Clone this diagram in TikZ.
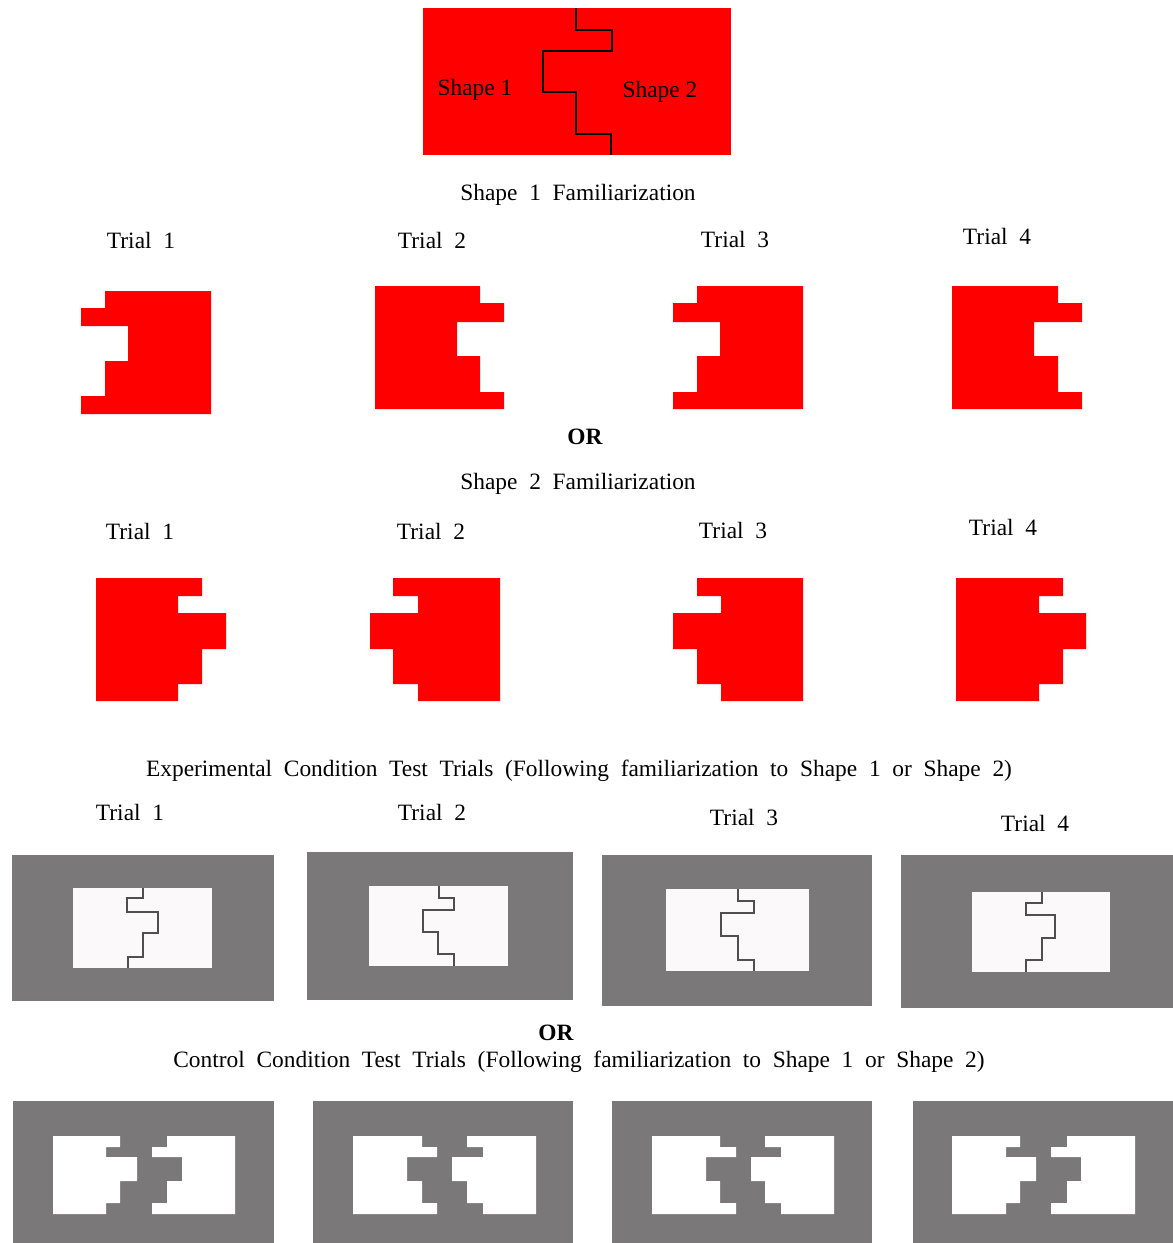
\documentclass[tikz,border=0pt]{standalone}
\usepackage{fontspec}
\setmainfont{Liberation Serif}
\definecolor{panelgray}{RGB}{122,120,121}
\definecolor{innerwhite}{RGB}{251,249,250}
\definecolor{lineGray}{RGB}{80,78,79}
\definecolor{shapered}{RGB}{255,0,0}
\newcommand\setrows[6]{\def\ya{#1}\def\yb{#2}\def\yc{#3}\def\yd{#4}\def\ye{#5}\def\yf{#6}}
\newcommand\widesp{\spaceskip=0.5em\relax}
% shape with straight left edge at #2 and right-edge profile #3..#7
\newcommand\rshape[7][]{\fill[#1] (#2,\ya) -- (#3,\ya) -- (#3,\yb) -- (#4,\yb) -- (#4,\yc) -- (#5,\yc) -- (#5,\yd) -- (#6,\yd) -- (#6,\ye) -- (#7,\ye) -- (#7,\yf) -- (#2,\yf) -- cycle;}
% shape with straight right edge at #2 and left-edge profile #3..#7
\newcommand\lshape[7][]{\fill[#1] (#2,\ya) -- (#3,\ya) -- (#3,\yb) -- (#4,\yb) -- (#4,\yc) -- (#5,\yc) -- (#5,\yd) -- (#6,\yd) -- (#6,\ye) -- (#7,\ye) -- (#7,\yf) -- (#2,\yf) -- cycle;}
% boundary line with profile #2..#6
\newcommand\bline[6][]{\draw[#1] (#2,\ya) -- (#2,\yb) -- (#3,\yb) -- (#3,\yc) -- (#4,\yc) -- (#4,\yd) -- (#5,\yd) -- (#5,\ye) -- (#6,\ye) -- (#6,\yf);}
\tikzset{
  txt/.style={font=\fontsize{23.4}{27}\selectfont, inner sep=0pt, anchor=base},
  bigtxt/.style={font=\fontsize{23.4}{27}\selectfont, inner sep=0pt, anchor=base, execute at begin node=\widesp},
  ortxt/.style={font=\fontsize{23.4}{27}\selectfont\bfseries, inner sep=0pt, anchor=base},
  redfill/.style={fill=shapered},
  whitefill/.style={fill=white},
  panel/.style={fill=panelgray},
  inner/.style={fill=innerwhite},
  cutline/.style={draw=lineGray, line width=1.3pt, line join=miter},
  topline/.style={draw=black, line width=1.6pt}
}
\begin{document}
\begin{tikzpicture}[x=1pt,y=-1pt]
\useasboundingbox (0,0) rectangle (1173,1243);
\fill[white] (0,0) rectangle (1173,1243);

% ---- top combined shape ----
\fill[shapered] (423,8) rectangle (731,155);
\setrows{8}{30}{51}{92}{134}{155}
\bline[topline]{576}{612}{543}{576}{611}
\node[txt] (s1) at (475,95) {Shape 1};
\node[txt] (s2) at (660,97) {Shape 2};

\node[bigtxt] (fam1) at (578,200) {Shape 1 Familiarization};
\node[bigtxt] (r1t1) at (141,248) {Trial 1};
\node[bigtxt] (r1t2) at (432,248) {Trial 2};
\node[bigtxt] (r1t3) at (735,247) {Trial 3};
\node[bigtxt] (r1t4) at (997,244) {Trial 4};

% ---- row 1 red shapes ----
\setrows{291}{308}{326}{361}{396}{414}
\lshape[redfill]{211}{105}{81}{128}{105}{81}
\setrows{286}{303}{322}{356}{392}{409}
\rshape[redfill]{375}{480}{504}{457}{480}{504}
\lshape[redfill]{803}{697}{673}{720}{697}{673}
\rshape[redfill]{952}{1058}{1082}{1034}{1058}{1082}

\node[ortxt] (or1) at (585,444) {OR};
\node[bigtxt] (fam2) at (578,489) {Shape 2 Familiarization};
\node[bigtxt] (r2t1) at (140,539) {Trial 1};
\node[bigtxt] (r2t2) at (431,539) {Trial 2};
\node[bigtxt] (r2t3) at (733,538) {Trial 3};
\node[bigtxt] (r2t4) at (1003,535) {Trial 4};

% ---- row 2 red shapes ----
\setrows{578}{596}{613}{649}{684}{701}
\rshape[redfill]{96}{202}{178}{226}{202}{178}
\lshape[redfill]{500}{393}{418}{370}{393}{418}
\lshape[redfill]{803}{697}{721}{673}{697}{721}
\rshape[redfill]{956}{1063}{1039}{1086}{1063}{1039}

\node[bigtxt] (exph) at (579,776) {Experimental Condition Test Trials (Following familiarization to Shape 1 or Shape 2)};
\node[bigtxt] (e1) at (130,820) {Trial 1};
\node[bigtxt] (e2) at (432,820) {Trial 2};
\node[bigtxt] (e3) at (744,825) {Trial 3};
\node[bigtxt] (e4) at (1035,831) {Trial 4};

% ---- experimental panels ----
\fill[panel] (12,855) rectangle (274,1001);
\fill[panel] (307,852) rectangle (573,1000);
\fill[panel] (602,855) rectangle (872,1006);
\fill[panel] (901,855) rectangle (1173,1008);
\fill[inner] (73,888) rectangle (212,968);
\fill[inner] (369,886) rectangle (508,966);
\fill[inner] (666,889) rectangle (809,971);
\fill[inner] (972,892) rectangle (1110,972);
\setrows{888}{898}{912}{933}{957}{968}
\bline[cutline]{143}{127}{158}{143}{128}
\setrows{886}{898}{910}{932}{954}{966}
\bline[cutline]{439}{454}{423}{438}{454}
\setrows{889}{901}{913}{936}{960}{971}
\bline[cutline]{738}{754}{721}{738}{754}
\setrows{892}{903}{915}{938}{960}{972}
\bline[cutline]{1042}{1026}{1055}{1042}{1026}

\node[ortxt] (or2) at (556,1040) {OR};
\node[bigtxt] (ctrlh) at (579,1067) {Control Condition Test Trials (Following familiarization to Shape 1 or Shape 2)};

% ---- control panels ----
\fill[panel] (13,1101) rectangle (274,1243);
\fill[panel] (313,1101) rectangle (573,1243);
\fill[panel] (612,1101) rectangle (872,1243);
\fill[panel] (913,1101) rectangle (1173,1243);
\setrows{1136}{1147}{1157}{1181}{1203}{1214}
\rshape[whitefill]{53}{120}{106}{137}{120}{106}
\lshape[whitefill]{235}{167}{152}{182}{167}{152}
\rshape[whitefill]{353}{422}{437}{407}{422}{437}
\lshape[whitefill]{536}{467}{483}{452}{467}{483}
\rshape[whitefill]{652}{720}{736}{706}{720}{736}
\lshape[whitefill]{834}{765}{781}{751}{765}{781}
\rshape[whitefill]{952}{1020}{1006}{1036}{1020}{1006}
\lshape[whitefill]{1135}{1067}{1051}{1081}{1067}{1051}
\end{tikzpicture}
\end{document}
